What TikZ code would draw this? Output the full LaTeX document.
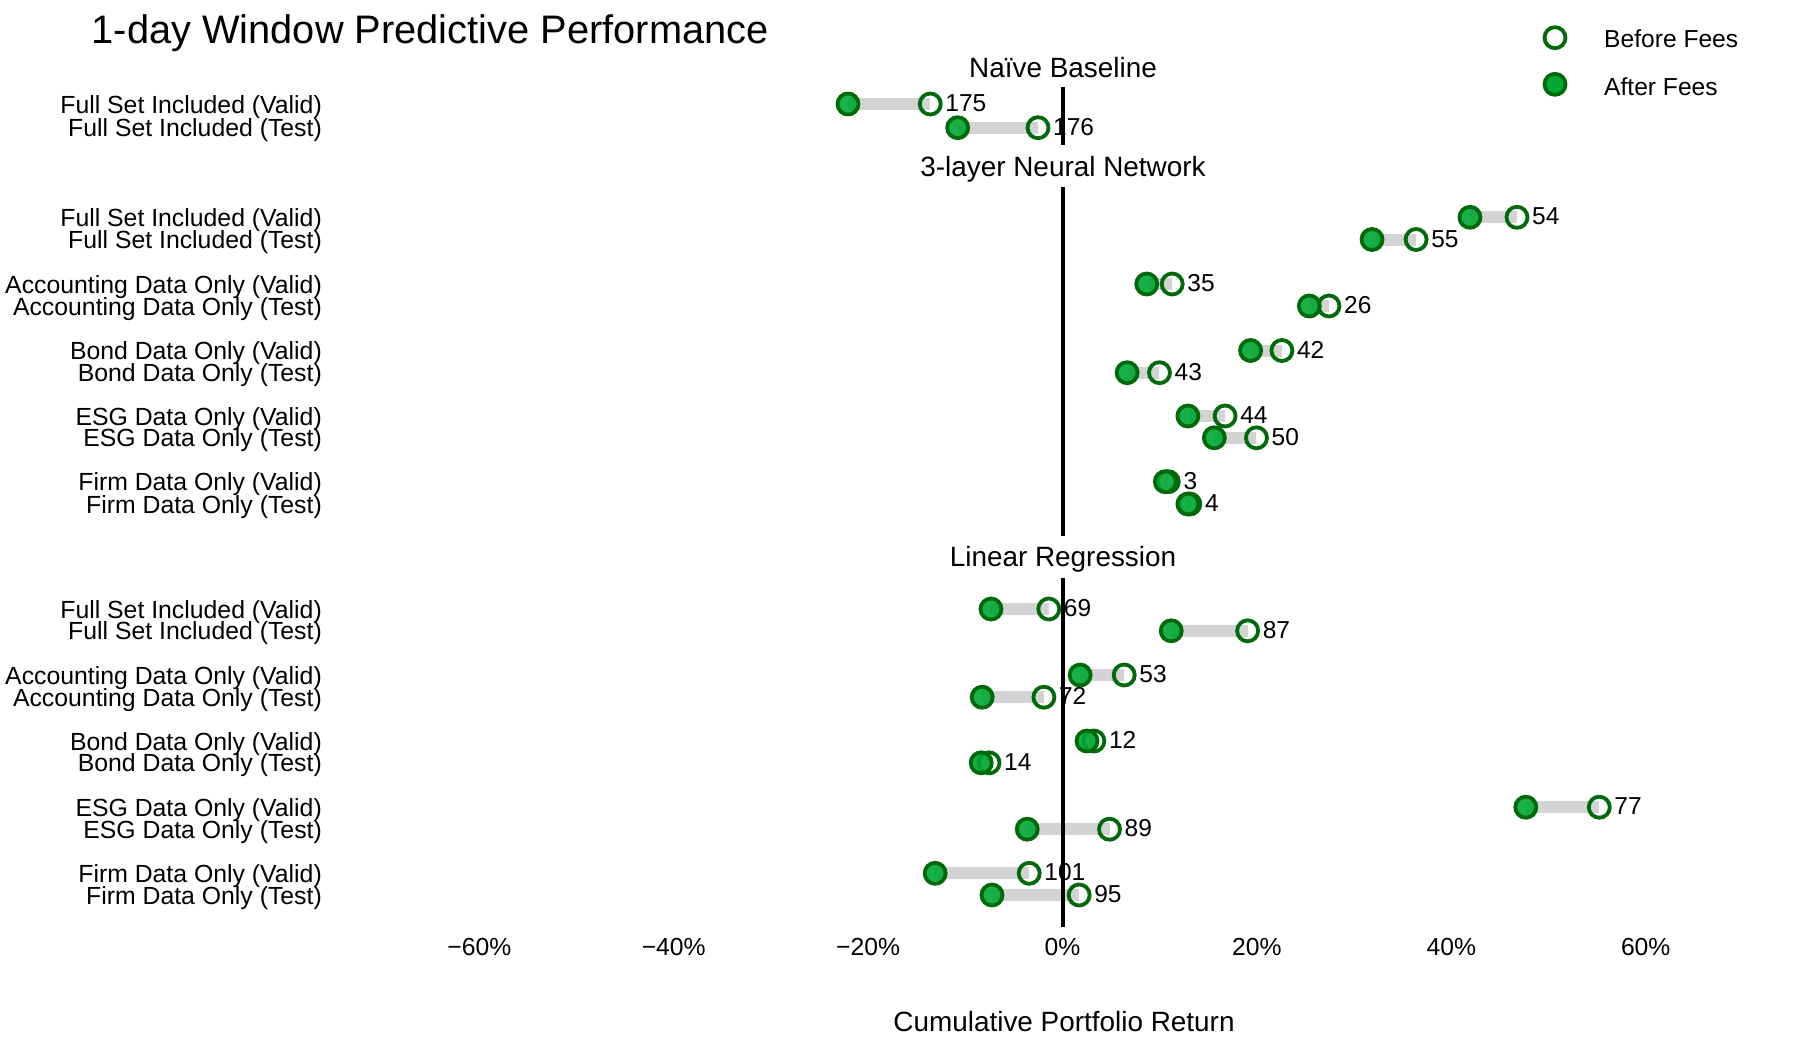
\documentclass[tikz,border=0pt]{standalone}
\usepackage{fontspec}
\setmainfont{Liberation Sans}
\usetikzlibrary{calc}
\definecolor{mkfill}{RGB}{0,168,52}
\definecolor{mkline}{RGB}{0,105,10}
\definecolor{barc}{RGB}{211,211,211}
\def\rows{%
nba/104/-21.9/-13.5/175/Full Set Included (Valid),%
nbb/127.7/-10.7/-2.5/176/Full Set Included (Test),%
nna/217.3/41.6/46.4/54/Full Set Included (Valid),%
nnb/239.5/31.6/36.1/55/Full Set Included (Test),%
nnc/284/8.6/11.2/35/Accounting Data Only (Valid),%
nnd/306/25.2/27.2/26/Accounting Data Only (Test),%
nne/350.5/19.2/22.4/42/Bond Data Only (Valid),%
nnf/372.7/6.6/9.9/43/Bond Data Only (Test),%
nng/416/12.8/16.6/44/ESG Data Only (Valid),%
nnh/437.8/15.5/19.8/50/ESG Data Only (Test),%
nni/481.7/10.5/10.8/3/Firm Data Only (Valid),%
nnj/504/12.8/13.0/4/Firm Data Only (Test),%
lra/609/-7.3/-1.4/69/Full Set Included (Valid),%
lrb/630.8/11.1/18.9/87/Full Set Included (Test),%
lrc/675/1.8/6.3/53/Accounting Data Only (Valid),%
lrd/697.2/-8.2/-1.9/72/Accounting Data Only (Test),%
lre/741/2.5/3.2/12/Bond Data Only (Valid),%
lrf/762.8/-8.3/-7.5/14/Bond Data Only (Test),%
lrg/807.2/47.3/54.8/77/ESG Data Only (Valid),%
lrh/829.2/-3.6/4.8/89/ESG Data Only (Test),%
lri/873.3/-13.0/-3.4/101/Firm Data Only (Valid),%
lrj/895/-7.2/1.7/95/Firm Data Only (Test)%
}
\begin{document}
\begin{tikzpicture}[x=1bp,y=-1bp,
  bar/.style={barc, line width=12bp},
  zeroline/.style={black, line width=4bp},
  openmk/.style={circle, draw=mkline, line width=3.8bp, minimum size=21bp, inner sep=0pt},
  fillmk/.style={openmk, fill=mkfill, fill opacity=0.9},
  legfill/.style={openmk, fill=mkfill},
  rowlab/.style={anchor=base east, inner sep=0pt, font=\fontsize{24.8bp}{30bp}\selectfont},
  cntlab/.style={anchor=base west, inner sep=0pt, font=\fontsize{24.5bp}{30bp}\selectfont},
  ticklab/.style={anchor=base, inner sep=0pt, font=\fontsize{24.7bp}{30bp}\selectfont},
  header/.style={anchor=base, inner sep=0pt, font=\fontsize{27.9bp}{32bp}\selectfont},
  titlelab/.style={anchor=base west, inner sep=0pt, font=\fontsize{39.8bp}{46bp}\selectfont},
  leglab/.style={anchor=base west, inner sep=0pt, font=\fontsize{24.6bp}{30bp}\selectfont}]
\fill[white] (0,0) rectangle (1800,1040);
\useasboundingbox (0,0) rectangle (1800,1040);
% title
\node[titlelab] (title) at (91.5,43.3) {1-day Window Predictive Performance};
% group headers
\node[header] (hnb) at (1063,77.3) {Naïve Baseline};
\node[header] (hnn) at (1063,176.7) {3-layer Neural Network};
\node[header] (hlr) at (1063,566.7) {Linear Regression};
% bars
\foreach \nm/\yy/\va/\vb/\cnt/\lab in \rows {
  \coordinate (\nm-a) at (\fpeval{1062.5+9.795*(\va)},\yy);
  \coordinate (\nm-b) at (\fpeval{1062.5+9.795*(\vb)},\yy);
  \draw[bar] (\nm-a) -- (\nm-b);
}
% labels
\foreach \nm/\yy/\va/\vb/\cnt/\lab in \rows {
  \node[rowlab] (\nm-l) at (322,\yy+9) {\lab};
  \node[cntlab] (\nm-c) at ($(\nm-b)+(15,7.5)$) {\cnt};
}
% zero lines
\coordinate (z1t) at (1062.5,87);  \coordinate (z1b) at (1062.5,145);
\coordinate (z2t) at (1062.5,187); \coordinate (z2b) at (1062.5,536);
\coordinate (z3t) at (1062.5,578); \coordinate (z3b) at (1062.5,927);
\draw[zeroline] (z1t) -- (z1b);
\draw[zeroline] (z2t) -- (z2b);
\draw[zeroline] (z3t) -- (z3b);
% markers
\foreach \nm/\yy/\va/\vb/\cnt/\lab in \rows {
  \node[openmk] (\nm-o) at (\nm-b) {};
  \node[fillmk] (\nm-f) at (\nm-a) {};
}
% x axis
\foreach \v/\t in {-60/−60\%,-40/−40\%,-20/−20\%,0/0\%,20/20\%,40/40\%,60/60\%} {
  \node[ticklab] (tick\v) at (\fpeval{1062.5+9.72*(\v)},955) {\t};
}
\node[header] (xlabel) at (1064,1031) {Cumulative Portfolio Return};
% legend
\node[openmk] (legopen) at (1555,37.7) {};
\node[legfill] (legfill) at (1555,84.3) {};
\node[leglab] (legt1) at (1604,47.3) {Before Fees};
\node[leglab] (legt2) at (1604,95) {After Fees};
\end{tikzpicture}
\end{document}
